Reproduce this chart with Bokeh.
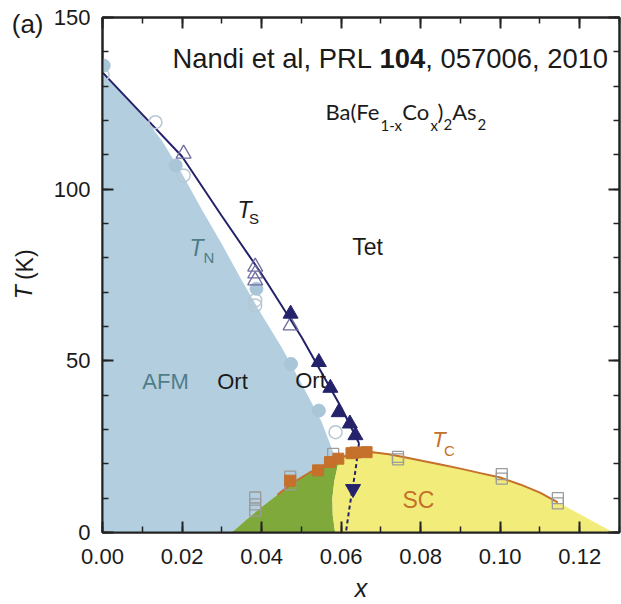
import numpy as np
from bokeh.plotting import figure
from bokeh.models import (Range1d, LinearAxis, SingleIntervalTicker, FixedTicker,
                          NumeralTickFormatter, CustomJSTickFormatter, Label)
from bokeh.embed import file_html
from bokeh.resources import INLINE

# ---------------- data ----------------
# structural transition line T_S (solid) and its dashed continuation
ts_x = [0.000, 0.010, 0.020, 0.030, 0.040, 0.050, 0.060, 0.0645]
ts_T = [134.0, 121.8, 109.5, 92.2, 75.3, 57.0, 36.5, 26.0]
ts_dash_x = [0.0645, 0.0636, 0.0622, 0.0612]
ts_dash_T = [26.0, 18.0, 8.0, 0.0]

# magnetic boundary T_N (edge of the AFM region)
tn_x = [0.000, 0.005, 0.010, 0.015, 0.020, 0.025, 0.030, 0.035, 0.040,
        0.045, 0.050, 0.055, 0.0585]
tn_T = [134.0, 128.0, 121.5, 114.0, 104.5, 94.0, 84.0, 73.5, 63.5,
        54.0, 43.5, 32.5, 22.0]

# superconducting dome T_c
tc_x = [0.0325, 0.036, 0.040, 0.044, 0.048, 0.052, 0.056, 0.060, 0.064,
        0.068, 0.072, 0.076, 0.080, 0.085, 0.090, 0.095, 0.100, 0.105,
        0.110, 0.1145]
tc_T = [0.0, 3.6, 7.4, 11.0, 14.6, 17.4, 19.8, 21.9, 23.2,
        23.4, 22.8, 21.9, 21.0, 19.8, 18.6, 17.3, 16.0, 14.0,
        11.6, 8.8]

# boundary between coexistence (green) and pure SC (yellow)
gy_x = [0.0585, 0.0579, 0.0578, 0.0583, 0.0596]
gy_T = [0.0, 5.0, 10.0, 15.0, 21.8]
sc_end_x = [0.1285]
sc_end_T = [0.0]

# markers
ts_fill_x = [0.0473, 0.0544, 0.0573, 0.0594, 0.0622, 0.0636]
ts_fill_T = [63.7, 49.6, 42.1, 35.0, 31.7, 28.3]
ts_open_x = [0.0204, 0.0384, 0.0384, 0.0384, 0.0473]
ts_open_T = [110.3, 77.4, 75.4, 73.4, 60.3]
ts_down_x = [0.0630]
ts_down_T = [12.7]
tn_fill_x = [0.0003, 0.0184, 0.0387, 0.0474, 0.0544]
tn_fill_T = [136.0, 106.9, 71.0, 49.1, 35.5]
tn_open_x = [0.0000, 0.0133, 0.0204, 0.0384, 0.0384, 0.0586]
tn_open_T = [133.3, 119.5, 104.0, 67.6, 66.1, 29.2]
tc_fill_x = [0.0472, 0.0542, 0.0572, 0.0593, 0.0626, 0.0636, 0.0664]
tc_fill_T = [15.1, 18.1, 20.5, 21.5, 23.1, 23.3, 23.4]
tc_open_x = [0.0384, 0.0384, 0.0384, 0.0472, 0.0472, 0.0580, 0.0743,
             0.0743, 0.1004, 0.1004, 0.1145, 0.1145]
tc_open_T = [10.2, 8.2, 6.4, 16.3, 14.0, 22.9, 22.0,
             21.3, 17.0, 15.7, 10.0, 8.5]

# ---------------- layout ----------------
W, H = 621, 604
LEFT, RIGHT, TOP, BOTTOM = 102, 2, 17, 72
XMAX, YMAX = 0.13, 150
FW, FH = W - LEFT - RIGHT, H - TOP - BOTTOM


def dx(px):
    return (px - LEFT) / FW * XMAX


def dy(py):
    return (TOP + FH - py) / FH * YMAX


p = figure(width=W, height=H, x_range=Range1d(0, XMAX),
           y_range=Range1d(0, YMAX), output_backend="svg",
           toolbar_location=None, min_border_left=LEFT,
           min_border_right=RIGHT, min_border_top=TOP,
           min_border_bottom=BOTTOM)
p.grid.visible = False
p.outline_line_color = "#222222"
p.outline_line_width = 2
p.background_fill_color = "white"
p.border_fill_color = "white"

AX = "#222222"
FONT = "Liberation Sans"
TXT = "#1a1a1a"


def style_axis(ax, labels=True):
    ax.axis_line_color = AX
    ax.axis_line_width = 2
    ax.major_tick_line_color = AX
    ax.minor_tick_line_color = AX
    ax.major_tick_line_width = 2
    ax.minor_tick_line_width = 1.5
    ax.major_tick_in = 11
    ax.major_tick_out = 0
    ax.minor_tick_in = 6
    ax.minor_tick_out = 0
    if labels:
        ax.major_label_text_font = FONT
        ax.major_label_text_font_size = "22px"
        ax.major_label_text_color = TXT
    else:
        ax.formatter = CustomJSTickFormatter(code="return ''")
        ax.major_label_text_font_size = "1px"
        ax.major_label_standoff = 0


p.xaxis.ticker = SingleIntervalTicker(interval=0.02, num_minor_ticks=2)
p.yaxis.ticker = SingleIntervalTicker(interval=50, num_minor_ticks=5)
p.xaxis.formatter = NumeralTickFormatter(format="0.00")
style_axis(p.xaxis[0])
style_axis(p.yaxis[0])
p.xaxis.major_label_standoff = 16
p.yaxis.major_label_standoff = 12

# x axis title
p.xaxis.axis_label = "x"
p.xaxis.axis_label_text_font = FONT
p.xaxis.axis_label_text_font_style = "italic"
p.xaxis.axis_label_text_font_size = "25px"
p.xaxis.axis_label_text_color = TXT
p.xaxis.axis_label_standoff = 7

top_ax = LinearAxis(ticker=SingleIntervalTicker(interval=0.02, num_minor_ticks=2))
right_ax = LinearAxis(ticker=SingleIntervalTicker(interval=50, num_minor_ticks=5))
style_axis(top_ax, labels=False)
style_axis(right_ax, labels=False)
p.add_layout(top_ax, "above")
p.add_layout(right_ax, "right")


def text_axis(tick, text, size, standoff, style="normal", orient="horizontal"):
    ax = LinearAxis(ticker=FixedTicker(ticks=[tick], minor_ticks=[]),
                    formatter=CustomJSTickFormatter(code="return %r" % text))
    ax.axis_line_color = None
    ax.major_tick_line_color = None
    ax.minor_tick_line_color = None
    ax.major_tick_in = 0
    ax.major_tick_out = 0
    ax.minor_tick_in = 0
    ax.minor_tick_out = 0
    ax.major_label_text_font = FONT
    ax.major_label_text_font_size = f"{size}px"
    ax.major_label_text_font_style = style
    ax.major_label_text_color = TXT
    ax.major_label_standoff = standoff
    ax.major_label_orientation = orient
    p.add_layout(ax, "left")


# y-axis title (italic T, upright (K)) and the panel label "(a)"
text_axis(70, "T", 23, 13, style="italic", orient="vertical")
text_axis(78, "(K)", 23, -30, orient="vertical")
text_axis(148, "(a)", 26, -35)

# ---------------- regions ----------------
BLUE = "#b3cfdf"
GREEN = "#7fa93b"
YELLOW = "#f2ed7a"
NAVY = "#24226b"
ORANGE = "#c5702b"

tc_x_a = np.array(tc_x)
tc_T_a = np.array(tc_T)

# AFM region
x_end = tn_x[-1]
left_mask = tc_x_a < x_end
blue_x = (list(tn_x) + [x_end] + list(tc_x_a[left_mask][::-1]) + [0.0])
blue_T = (list(tn_T) + [float(np.interp(x_end, tc_x, tc_T))]
          + list(tc_T_a[left_mask][::-1]) + [0.0])
p.patch(blue_x, blue_T, fill_color=BLUE, line_color=None)

# coexistence (green)
g_top = gy_x[-1]
gm = tc_x_a < g_top
green_x = list(tc_x_a[gm]) + gy_x[::-1]
green_T = list(tc_T_a[gm]) + gy_T[::-1]
p.patch(green_x, green_T, fill_color=GREEN, line_color=None)

# SC (yellow)
ym = tc_x_a > g_top
yellow_x = gy_x + list(tc_x_a[ym]) + sc_end_x
yellow_T = gy_T + list(tc_T_a[ym]) + sc_end_T
p.patch(yellow_x, yellow_T, fill_color=YELLOW, line_color=None)

# ---------------- lines ----------------
lm = tc_x_a >= 0.044
p.line(list(tc_x_a[lm]), list(tc_T_a[lm]), line_color=ORANGE, line_width=2)
p.line(ts_x, ts_T, line_color=NAVY, line_width=2)
p.line(ts_dash_x, ts_dash_T, line_color=NAVY, line_width=2, line_dash="4 3")

# ---------------- markers ----------------
p.scatter(tc_open_x, tc_open_T, marker="square", size=11, fill_color=None,
          line_color="#9b9b9b", line_width=1.3)
p.scatter(tc_fill_x, tc_fill_T, marker="square", size=11, fill_color=ORANGE,
          line_color=ORANGE)
p.scatter(tn_open_x, tn_open_T, marker="circle", size=13, fill_color=None,
          line_color="#b6c7d3", line_width=1.5)
p.scatter(tn_fill_x, tn_fill_T, marker="circle", size=13, fill_color="#a9c6d9",
          line_color="#a9c6d9")
p.scatter(ts_open_x, ts_open_T, marker="triangle", size=15, fill_color=None,
          line_color="#6f6c9f", line_width=1.3)
p.scatter(ts_fill_x, ts_fill_T, marker="triangle", size=15, fill_color=NAVY,
          line_color=NAVY)
p.scatter(ts_down_x, ts_down_T, marker="inverted_triangle", size=15,
          fill_color=NAVY, line_color=NAVY)

# ---------------- texts inside the frame ----------------


def lab(px, py, text, size, color=TXT, font=FONT, style="normal",
        align="left"):
    p.add_layout(Label(x=dx(px), y=dy(py), text=text,
                       text_font_size=f"{size}px", text_color=color,
                       text_font=font, text_font_style=style,
                       text_align=align, text_baseline="middle"))


# citation
TS = 27.4
t0 = 172
CY = 57.5
lab(t0, CY, "Nandi et al, PRL", TS)
w1 = 7.559 * TS
lab(t0 + w1, CY, "104", TS, style="bold")
w2 = 1.668 * TS
lab(t0 + w1 + w2, CY, ", 057006, 2010", TS)

# formula
FF = "Lato"
MY, SY = 111, 124
lab(325, MY, "Ba(Fe", 22, font=FF)
lab(380, SY, "1-x", 15, font=FF)
lab(401.7, MY, "Co", 22, font=FF)
lab(430, SY, "x", 15, font=FF)
lab(437, MY, ")", 22, font=FF)
lab(443, SY, "2", 15, font=FF)
lab(451.7, MY, "As", 22, font=FF)
lab(477, SY, "2", 15, font=FF)

# line labels
lab(237, 209.5, "T", 23, style="italic")
lab(248.5, 218, "S", 15)
TEAL = "#4f7c89"
lab(189, 247.5, "T", 23, color=TEAL, style="italic")
lab(203, 257, "N", 15, color=TEAL)
lab(431.7, 439, "T", 22, color=ORANGE, style="italic")
lab(443.5, 450, "C", 15, color=ORANGE)

# region labels
lab(367, 246, "Tet", 23, align="center")
lab(165, 381, "AFM", 22, color=TEAL, align="center")
lab(232, 381, "Ort", 22, align="center")
lab(310, 380, "Ort", 22, align="center")
lab(418, 499, "SC", 23, color=ORANGE, align="center")

open("out.html", "w").write(file_html(p, INLINE))
